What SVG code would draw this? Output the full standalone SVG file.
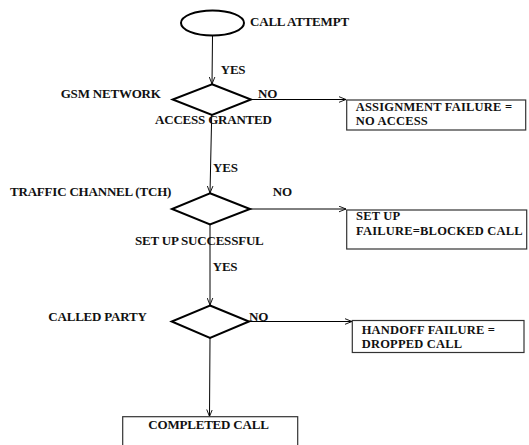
<svg xmlns="http://www.w3.org/2000/svg" width="529" height="445" viewBox="0 0 529 445">
<style>
text{font-family:"Liberation Serif","Times New Roman",serif;font-weight:bold;font-size:13px;fill:#111;letter-spacing:-0.2px}
text.bt{font-size:12.5px;letter-spacing:0.2px}
.shape{fill:#fff;stroke:#000;stroke-width:2}
.box{fill:#fff;stroke:#333;stroke-width:1.2}
.conn{fill:none;stroke:#000;stroke-width:1}
</style>
<defs>
<marker id="arr" viewBox="0 0 10 10" refX="10" refY="5" markerWidth="7" markerHeight="7" orient="auto" markerUnits="userSpaceOnUse">
<path d="M0,1 L10,5 L0,9" fill="none" stroke="#000" stroke-width="1.3"/>
</marker>
</defs>
<rect width="529" height="445" fill="#fff"/>
<g id="connectors">
<line class="conn" x1="212.5" y1="35.5" x2="212" y2="84" marker-end="url(#arr)"/>
<line class="conn" x1="211.7" y1="115" x2="210" y2="193" marker-end="url(#arr)"/>
<line class="conn" x1="210" y1="224.5" x2="210" y2="305" marker-end="url(#arr)"/>
<line class="conn" x1="210" y1="338" x2="209.5" y2="416.5" marker-end="url(#arr)"/>
<line class="conn" x1="251" y1="99.5" x2="346" y2="99.5" marker-end="url(#arr)"/>
<line class="conn" x1="250" y1="209" x2="346" y2="209" marker-end="url(#arr)"/>
<line class="conn" x1="249" y1="321.5" x2="352" y2="321.5" marker-end="url(#arr)"/>
</g>
<g id="start">
<ellipse class="shape" cx="212.5" cy="23" rx="31.5" ry="12.5"/>
<text x="250" y="26">CALL ATTEMPT</text>
</g>
<text x="220.7" y="74">YES</text>
<g id="decision1">
<polygon class="shape" points="212,84.3 251,99.5 212,115 172.7,99.5"/>
<text x="60.7" y="98.3">GSM NETWORK</text>
<text x="258" y="98">NO</text>
<text x="155" y="124">ACCESS GRANTED</text>
</g>
<g id="box1">
<rect class="box" x="346.7" y="100" width="179" height="30"/>
<text class="bt" x="355.7" y="111">ASSIGNMENT FAILURE =</text>
<text class="bt" x="355.7" y="125.3">NO ACCESS</text>
</g>
<text x="213" y="172">YES</text>
<g id="decision2">
<polygon class="shape" points="210,193.3 250,209 210,224.5 172,209"/>
<text x="10" y="196">TRAFFIC CHANNEL (TCH)</text>
<text x="272.7" y="196">NO</text>
<text x="135" y="245">SET UP SUCCESSFUL</text>
</g>
<g id="box2">
<rect class="box" x="346.7" y="210" width="180" height="39"/>
<text class="bt" x="356" y="220">SET UP</text>
<text class="bt" x="356" y="235">FAILURE=BLOCKED CALL</text>
</g>
<text x="212.7" y="270.7">YES</text>
<g id="decision3">
<polygon class="shape" points="210,305.5 249,321.5 210,338 171.7,321.5"/>
<text x="48.3" y="320.7">CALLED PARTY</text>
<text x="249" y="320.5">NO</text>
</g>
<g id="box3">
<rect class="box" x="352.3" y="320.5" width="171.7" height="32"/>
<text class="bt" x="361.7" y="333.8">HANDOFF FAILURE =</text>
<text class="bt" x="361.7" y="348.1">DROPPED CALL</text>
</g>
<g id="end">
<rect class="box" x="122.7" y="416.7" width="175" height="40"/>
<text x="148.3" y="429.3">COMPLETED CALL</text>
</g>
</svg>
